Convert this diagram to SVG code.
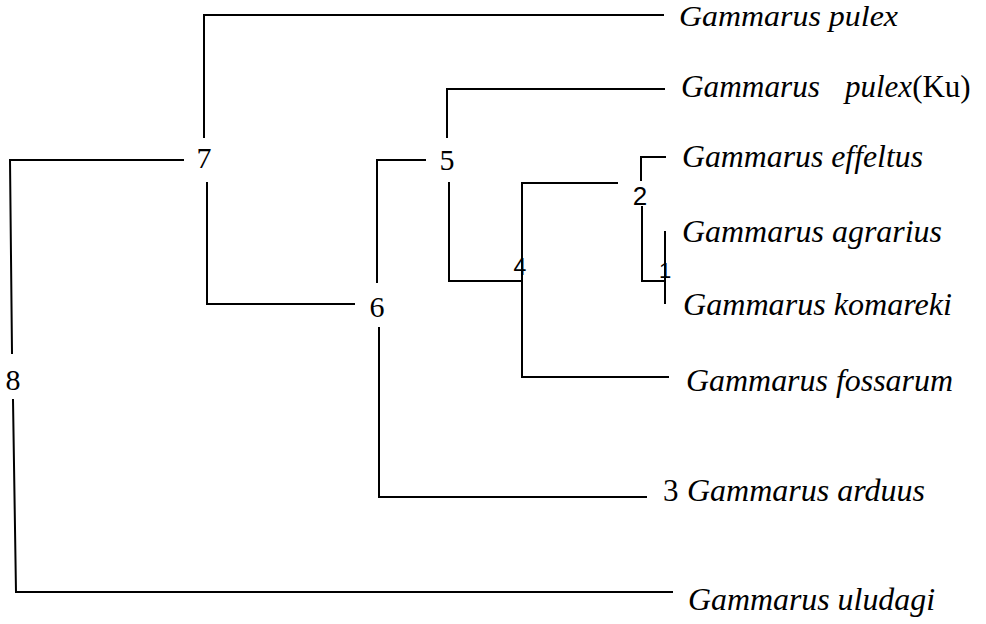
<svg xmlns="http://www.w3.org/2000/svg" width="986" height="624" viewBox="0 0 986 624">
<style>
.ln{fill:none;stroke:#000;stroke-width:2;stroke-linecap:square}
.sp{font-family:"Liberation Serif",serif;font-style:italic;font-size:31px;fill:#000}
.up{font-style:normal}
.num{font-family:"Liberation Serif",serif;font-size:30px;fill:#000;text-anchor:middle}
.sn{font-family:"Liberation Sans",sans-serif;fill:#000;text-anchor:middle}
</style>
<rect width="986" height="624" fill="#fff"/>
<g id="connectors">
<path class="ln" d="M204,137 V15 H663"/>
<path class="ln" d="M207,183 V304 H354"/>
<path class="ln" d="M183,160 H10 L12,353"/>
<path class="ln" d="M13,400 L16,592 H672"/>
<path class="ln" d="M425,160 H377 V282"/>
<path class="ln" d="M379,328 V497 H646"/>
<path class="ln" d="M447,137 V89 H664"/>
<path class="ln" d="M449,183 V281 H522"/>
<path class="ln" d="M617,183 H522 V377 H668"/>
<path class="ln" d="M641,180 V157 H665"/>
<path class="ln" d="M642,207 V281 H665"/>
<path class="ln" d="M665,232 V303"/>
</g>
<g id="n8"><text class="num" x="13" y="390">8</text></g>
<g id="n7"><text class="num" x="204" y="168">7</text></g>
<g id="n6"><text class="num" x="377" y="317">6</text></g>
<g id="n5"><text class="num" x="447" y="170">5</text></g>
<g id="n4"><text class="sn" x="520" y="275" font-size="23">4</text></g>
<g id="n2"><text class="sn" x="640" y="205" font-size="26">2</text></g>
<g id="n1"><text class="sn" x="665" y="278" font-size="22">1</text></g>
<g id="leaf-pulex"><text class="sp" x="679" y="26" font-size="29" style="font-size:29px" textLength="219" lengthAdjust="spacingAndGlyphs">Gammarus pulex</text></g>
<g id="leaf-pulex-ku"><text class="sp" x="681" y="97"><tspan textLength="139" lengthAdjust="spacingAndGlyphs">Gammarus</tspan> <tspan x="845">pulex</tspan><tspan class="up">(Ku)</tspan></text></g>
<g id="leaf-effeltus"><text class="sp" x="682" y="167" textLength="241" lengthAdjust="spacingAndGlyphs">Gammarus effeltus</text></g>
<g id="leaf-agrarius"><text class="sp" x="682" y="242" textLength="260" lengthAdjust="spacingAndGlyphs">Gammarus agrarius</text></g>
<g id="leaf-komareki"><text class="sp" x="683" y="315" textLength="269" lengthAdjust="spacingAndGlyphs">Gammarus komareki</text></g>
<g id="leaf-fossarum"><text class="sp" x="686" y="391" textLength="267" lengthAdjust="spacingAndGlyphs">Gammarus fossarum</text></g>
<g id="leaf-arduus"><text class="sp" x="663" y="501"><tspan class="up">3</tspan> <tspan x="687" textLength="238" lengthAdjust="spacingAndGlyphs">Gammarus arduus</tspan></text></g>
<g id="leaf-uludagi"><text class="sp" x="688" y="610" textLength="247" lengthAdjust="spacingAndGlyphs">Gammarus uludagi</text></g>
</svg>
